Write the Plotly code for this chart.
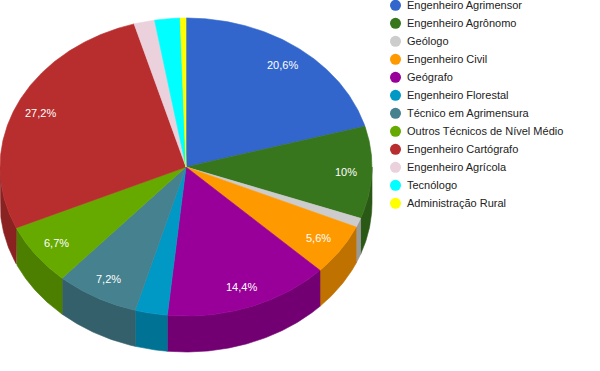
import math
import plotly.graph_objects as go

# ---- data ----
categories = [
    "Engenheiro Agrimensor", "Engenheiro Agrônomo", "Geólogo", "Engenheiro Civil",
    "Geógrafo", "Engenheiro Florestal", "Técnico em Agrimensura",
    "Outros Técnicos de Nível Médio", "Engenheiro Cartógrafo", "Engenheiro Agrícola",
    "Tecnólogo", "Administração Rural",
]
values = [20.6, 10.0, 1.0, 5.6, 14.4, 2.8, 7.2, 6.7, 27.2, 1.8, 2.2, 0.5]
colors = ["#3366cc", "#38761d", "#cccccc", "#ff9900", "#990099", "#0099c6",
          "#45818e", "#66aa00", "#b82e2e", "#ead1dc", "#00ffff", "#ffff00"]

# ---- geometry (pixel-like axis units) ----
CX, CY = 186.0, 167.0
RX, RY = 186.0, 149.0
DEPTH = 36.0
LABEL_R = 0.86
FONT = "Liberation Sans, Arial, sans-serif"


def darker(hexc, f=0.75):
    h = hexc.lstrip("#")
    r, g, b = (int(h[i:i + 2], 16) for i in (0, 2, 4))
    return "rgb(%d,%d,%d)" % (r * f, g * f, b * f)


def pt(theta_deg, dy=0.0, scale=1.0):
    t = math.radians(theta_deg)
    return CX + scale * RX * math.sin(t), CY - scale * RY * math.cos(t) + dy


def arc(a, b, dy=0.0):
    n = max(2, int(abs(b - a) / 0.5) + 1)
    return [pt(a + (b - a) * i / (n - 1), dy) for i in range(n)]


total = sum(values)
angles = []
acc = 0.0
for v in values:
    a = acc / total * 360.0
    acc += v
    b = acc / total * 360.0
    angles.append((a, b))

fig = go.Figure()

# sides (front half only: 90..270 deg measured clockwise from top)
for (a, b), c in zip(angles, colors):
    lo, hi = max(a, 90.0), min(b, 270.0)
    if hi <= lo:
        continue
    top = arc(lo, hi)
    bot = arc(hi, lo, DEPTH)
    pts = top + bot + [top[0]]
    fig.add_trace(go.Scatter(
        x=[p[0] for p in pts], y=[p[1] for p in pts], mode="lines",
        fill="toself", fillcolor=darker(c), line=dict(color=darker(c), width=0.6),
        hoverinfo="skip", showlegend=False))

# top faces
for (a, b), c, name, v in zip(angles, colors, categories, values):
    pts = [(CX, CY)] + arc(a, b) + [(CX, CY)]
    fig.add_trace(go.Scatter(
        x=[p[0] for p in pts], y=[p[1] for p in pts], mode="lines",
        fill="toself", fillcolor=c, line=dict(color=c, width=0.6),
        name=name, hoverinfo="name", showlegend=False))

# slice labels
for (a, b), v in zip(angles, values):
    if v < 5:
        continue
    x, y = pt((a + b) / 2.0, scale=LABEL_R)
    fig.add_annotation(x=x, y=y, text=("%g" % v).replace(".", ",") + "%",
                       showarrow=False, xanchor="center", yanchor="middle",
                       xref="x", yref="y",
                       font=dict(family=FONT, size=11, color="#ffffff"))

# legend (circles + labels)
LEG_X, LEG_Y0, LEG_DY = 395.5, 5.3, 18.0
leg_y = [LEG_Y0 + i * LEG_DY for i in range(len(categories))]
fig.add_trace(go.Scatter(
    x=[LEG_X] * len(categories), y=leg_y, mode="markers",
    marker=dict(size=11, color=colors, line=dict(width=0)),
    hoverinfo="skip", showlegend=False))
for name, y in zip(categories, leg_y):
    fig.add_annotation(x=405, y=y, text=name, showarrow=False, xanchor="left",
                       yanchor="middle", xref="x", yref="y",
                       font=dict(family=FONT, size=11, color="#222222"))

fig.update_layout(
    width=600, height=371, autosize=False,
    margin=dict(l=0, r=0, t=0, b=0),
    paper_bgcolor="#ffffff", plot_bgcolor="#ffffff",
    xaxis=dict(range=[0, 600], visible=False, fixedrange=True),
    yaxis=dict(range=[371, 0], visible=False, fixedrange=True),
    showlegend=False,
)

fig.write_html("out.html", config={"displayModeBar": False},
               post_script="document.body.style.margin='0';document.body.style.overflow='hidden';")
